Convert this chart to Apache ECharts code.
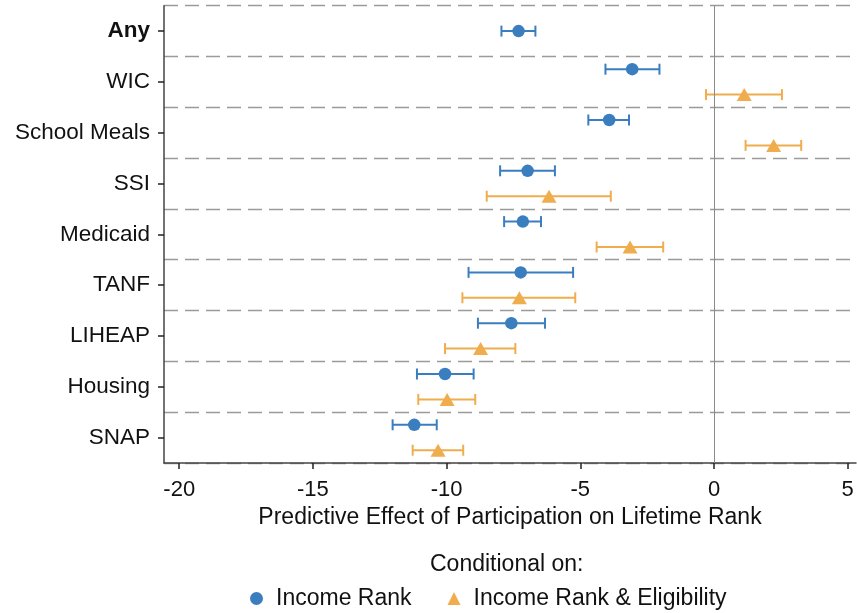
<!DOCTYPE html>
<html>
<head>
<meta charset="utf-8">
<script src="https://cdn.jsdelivr.net/npm/echarts@6/dist/echarts.min.js"></script>
<style>
  html, body { margin: 0; padding: 0; background: #fff; }
  #chart { width: 857px; height: 613px; }
</style>
</head>
<body>
<div id="chart"></div>
<script>
// Programs, top to bottom
const categories = ['Any', 'WIC', 'School Meals', 'SSI', 'Medicaid', 'TANF', 'LIHEAP', 'Housing', 'SNAP'];

// Conditional on income rank: point estimate and 95% CI
const incomeRankEst = [-7.31, -3.06, -3.92, -6.97, -7.15, -7.23, -7.58, -10.06, -11.21];
const incomeRankLo  = [-7.95, -4.06, -4.70, -8.00, -7.85, -9.18, -8.83, -11.11, -12.02];
const incomeRankHi  = [-6.68, -2.04, -3.18, -5.95, -6.47, -5.27, -6.32, -8.99, -10.37];

// Conditional on income rank & eligibility (no estimate for "Any")
const eligEst = [null, 1.13, 2.23, -6.17, -3.14, -7.28, -8.73, -9.98, -10.32];
const eligLo  = [null, -0.30, 1.18, -8.50, -4.39, -9.41, -10.06, -11.06, -11.27];
const eligHi  = [null, 2.54, 3.26, -3.86, -1.90, -5.19, -7.43, -8.93, -9.38];

const xTicks = [-20, -15, -10, -5, 0, 5];

const FONT = 'Liberation Sans, Arial, Helvetica, sans-serif';
const BLUE = '#3a7ebf';
const ORANGE = '#f0ad4e';

// vertical position inside each category band
function pos(i, group) {
  const paired = eligEst[i] !== null;
  if (!paired) return i;
  return group === 0 ? i - 0.25 : i + 0.25;
}

function ciData(lo, hi, group) {
  const out = [];
  for (let i = 0; i < categories.length; i++) {
    if (lo[i] === null) continue;
    out.push([lo[i], hi[i], pos(i, group)]);
  }
  return out;
}
function pointData(est, group) {
  const out = [];
  for (let i = 0; i < categories.length; i++) {
    if (est[i] === null) continue;
    out.push([est[i], pos(i, group)]);
  }
  return out;
}

function errorBar(color) {
  return function (params, api) {
    const a = api.coord([api.value(0), api.value(2)]);
    const b = api.coord([api.value(1), api.value(2)]);
    const h = 5.5;
    const style = { stroke: color, lineWidth: 2, fill: null };
    return {
      type: 'group',
      children: [
        { type: 'line', shape: { x1: a[0], y1: a[1], x2: b[0], y2: b[1] }, style: style },
        { type: 'line', shape: { x1: a[0], y1: a[1] - h, x2: a[0], y2: a[1] + h }, style: style },
        { type: 'line', shape: { x1: b[0], y1: b[1] - h, x2: b[0], y2: b[1] + h }, style: style }
      ]
    };
  };
}

const chart = echarts.init(document.getElementById('chart'), null, { renderer: 'canvas' });

chart.setOption({
  animation: false,
  backgroundColor: '#fff',
  textStyle: { fontFamily: FONT },
  title: {
    text: 'Conditional on:',
    left: 430,
    top: 553,
    padding: 0,
    textStyle: { fontFamily: FONT, fontSize: 23, fontWeight: 'normal', color: '#111' }
  },
  legend: {
    left: 250,
    top: 587,
    padding: 0,
    itemGap: 36,
    itemWidth: 13,
    itemHeight: 13,
    textStyle: { fontFamily: FONT, fontSize: 23, color: '#111', padding: [0, 0, 0, 8] },
    data: [
      { name: 'Income Rank', icon: 'circle' },
      { name: 'Income Rank & Eligibility', icon: 'triangle' }
    ]
  },
  grid: { left: 164, right: 1, top: 5.7, bottom: 150.1, containLabel: false },
  xAxis: {
    type: 'value',
    min: -20.57,
    max: 5.31,
    name: 'Predictive Effect of Participation on Lifetime Rank',
    nameLocation: 'middle',
    nameGap: 43,
    nameTextStyle: { fontFamily: FONT, fontSize: 23, color: '#111' },
    axisLine: { show: true, onZero: false, lineStyle: { color: '#444', width: 1.5 } },
    axisTick: { show: true, length: 6, customValues: xTicks, lineStyle: { color: '#222', width: 1.5 } },
    axisLabel: { customValues: xTicks, fontFamily: FONT, fontSize: 22, color: '#111', margin: 16 },
    splitLine: { show: false }
  },
  yAxis: [
    {
      type: 'category',
      data: categories,
      inverse: true,
      boundaryGap: true,
      axisLine: { show: true, onZero: false, lineStyle: { color: '#444', width: 1.5 } },
      axisTick: { show: true, alignWithLabel: true, length: 6, lineStyle: { color: '#222', width: 1.5 } },
      axisLabel: {
        fontFamily: FONT, fontSize: 22.5, color: '#111', margin: 14,
        formatter: function (v) { return v === 'Any' ? '{b|' + v + '}' : v; },
        rich: { b: { fontFamily: FONT, fontSize: 22.5, fontWeight: 'bold', color: '#111' } }
      },
      splitLine: { show: true, lineStyle: { color: '#9a9a9a', width: 1.4, type: [14, 7] } }
    },
    {
      type: 'value',
      min: -0.5,
      max: 8.5,
      inverse: true,
      show: false
    }
  ],
  series: [
    {
      name: 'zero',
      type: 'line',
      yAxisIndex: 1,
      data: [],
      z: 1,
      silent: true,
      markLine: {
        silent: true,
        symbol: ['none', 'none'],
        label: { show: false },
        lineStyle: { color: '#8a8a8a', width: 1, type: 'solid' },
        data: [{ xAxis: 0 }]
      }
    },
    {
      name: 'Income Rank CI',
      type: 'custom',
      yAxisIndex: 1,
      z: 2,
      renderItem: errorBar(BLUE),
      encode: { x: [0, 1], y: 2 },
      data: ciData(incomeRankLo, incomeRankHi, 0)
    },
    {
      name: 'Income Rank & Eligibility CI',
      type: 'custom',
      yAxisIndex: 1,
      z: 2,
      renderItem: errorBar(ORANGE),
      encode: { x: [0, 1], y: 2 },
      data: ciData(eligLo, eligHi, 1)
    },
    {
      name: 'Income Rank',
      type: 'scatter',
      yAxisIndex: 1,
      z: 3,
      symbol: 'circle',
      symbolSize: 12.5,
      itemStyle: { color: BLUE, opacity: 1 },
      data: pointData(incomeRankEst, 0)
    },
    {
      name: 'Income Rank & Eligibility',
      type: 'scatter',
      yAxisIndex: 1,
      z: 3,
      symbol: 'triangle',
      symbolSize: [15, 13],
      itemStyle: { color: ORANGE, opacity: 1 },
      data: pointData(eligEst, 1)
    }
  ]
});
</script>
</body>
</html>
